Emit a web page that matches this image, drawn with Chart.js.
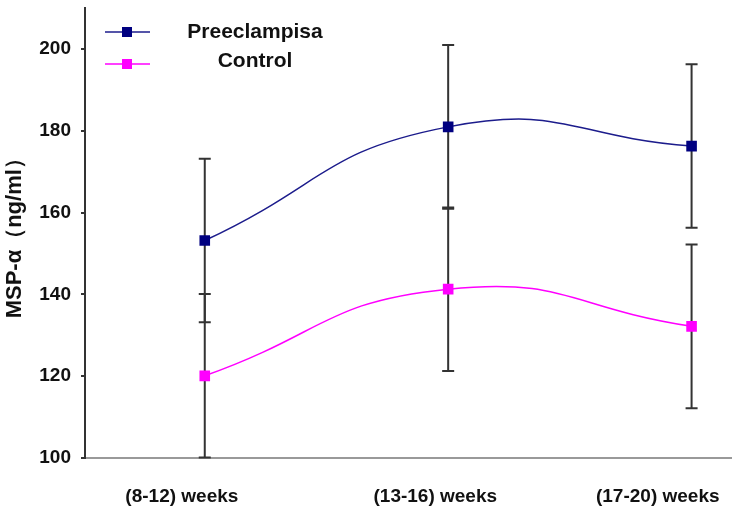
<!DOCTYPE html>
<html>
<head>
<meta charset="utf-8">
<script src="https://cdn.jsdelivr.net/npm/chart.js@4/dist/chart.umd.min.js"></script>
<style>
  html, body { margin: 0; padding: 0; background: #fff; }
  #wrap { width: 739px; height: 509px; }
</style>
</head>
<body>
<div id="wrap"><canvas id="chart"></canvas></div>
<script>
// data
const xPos      = [1, 2, 3];
const xLabels   = ['(8-12) weeks', '(13-16) weeks', '(17-20) weeks'];
const xLabelPos = [0.906, 1.947, 2.861];
const preMean   = [153.2, 181.0, 176.3];
const preSD     = [20, 20, 20];
const ctrlMean  = [120.1, 141.3, 132.2];
const ctrlSD    = [20, 20, 20];
const yTicks    = [100, 120, 140, 160, 180, 200];

const FONT = "'Liberation Sans', Arial, sans-serif";

// error bars, drawn under the markers
const errorBars = {
  id: 'errorBars',
  beforeDatasetsDraw(chart) {
    const { ctx, scales: { x, y } } = chart;
    const sds = [preSD, ctrlSD];
    ctx.save();
    ctx.strokeStyle = '#333';
    ctx.lineWidth = 2;
    chart.data.datasets.forEach((ds, i) => {
      ds.data.forEach(p => {
        const k = xPos.indexOf(p.x);
        const px = x.getPixelForValue(p.x);
        const top = y.getPixelForValue(p.y + sds[i][k]);
        const bot = y.getPixelForValue(p.y - sds[i][k]);
        ctx.beginPath();
        ctx.moveTo(px, top); ctx.lineTo(px, bot);
        ctx.moveTo(px - 6, top); ctx.lineTo(px + 6, top);
        ctx.moveTo(px - 6, bot); ctx.lineTo(px + 6, bot);
        ctx.stroke();
      });
    });
    ctx.restore();
  }
};

// legend in the top left corner, text centred
const cornerLegend = {
  id: 'cornerLegend',
  afterDraw(chart) {
    const ctx = chart.ctx;
    const lineY = [32, 64];
    const textY = [32, 61];
    ctx.save();
    chart.data.datasets.forEach((ds, i) => {
      ctx.strokeStyle = ds.borderColor;
      ctx.lineWidth = 1.5;
      ctx.beginPath();
      ctx.moveTo(105, lineY[i]); ctx.lineTo(150, lineY[i]);
      ctx.stroke();
      ctx.fillStyle = ds.pointBackgroundColor;
      ctx.fillRect(122, lineY[i] - 5, 10, 10);
      ctx.fillStyle = '#111';
      ctx.font = 'bold 21px ' + FONT;
      ctx.textAlign = 'center';
      ctx.textBaseline = 'middle';
      ctx.fillText(ds.label, 255, textY[i]);
    });
    ctx.restore();
  }
};

new Chart(document.getElementById('chart'), {
  type: 'line',
  data: {
    datasets: [
      {
        label: 'Preeclampisa',
        data: xPos.map((v, i) => ({ x: v, y: preMean[i] })),
        borderColor: '#1c1c8c',
        pointBackgroundColor: '#000080',
        borderWidth: 1.5,
        pointStyle: 'rect',
        pointRadius: 7.5,
        pointBorderWidth: 0,
        tension: 0.5
      },
      {
        label: 'Control',
        data: xPos.map((v, i) => ({ x: v, y: ctrlMean[i] })),
        borderColor: '#ff00ff',
        pointBackgroundColor: '#ff00ff',
        borderWidth: 1.5,
        pointStyle: 'rect',
        pointRadius: 7.5,
        pointBorderWidth: 0,
        tension: 0.5
      }
    ]
  },
  options: {
    responsive: true,
    maintainAspectRatio: false,
    animation: false,
    layout: { padding: { left: 0, top: 6, right: 4, bottom: 0 } },
    plugins: {
      legend: { display: false },
      tooltip: { enabled: false }
    },
    scales: {
      x: {
        type: 'linear',
        min: 0.508,
        max: 3.164,
        afterBuildTicks: s => { s.ticks = xLabelPos.map(v => ({ value: v })); },
        afterFit: s => { s.height = 51; s.paddingLeft = 0; s.paddingRight = 0; },
        grid: { display: false },
        border: { display: true, color: '#999', width: 2 },
        ticks: {
          autoSkip: false,
          maxRotation: 0,
          padding: 19,
          color: '#111',
          font: { family: FONT, size: 19, weight: 'bold' },
          callback: (v, i) => xLabels[i]
        }
      },
      y: {
        min: 100,
        max: 210.2,
        afterBuildTicks: s => { s.ticks = yTicks.map(v => ({ value: v })); },
        afterFit: s => { s.width = 85; s.paddingTop = 0; s.paddingBottom = 0; },
        grid: { drawOnChartArea: false, drawTicks: true, tickLength: 4, color: '#333', lineWidth: 2 },
        border: { display: true, color: '#333', width: 2 },
        ticks: {
          padding: 10,
          color: '#111',
          font: { family: FONT, size: 19, weight: 'bold' }
        },
        title: {
          display: true,
          text: 'MSP-α（ng/ml）',
          color: '#111',
          padding: { top: 2, bottom: 0 },
          font: { family: FONT, size: 22, weight: 'bold' }
        }
      }
    }
  },
  plugins: [errorBars, cornerLegend]
});
</script>
</body>
</html>
